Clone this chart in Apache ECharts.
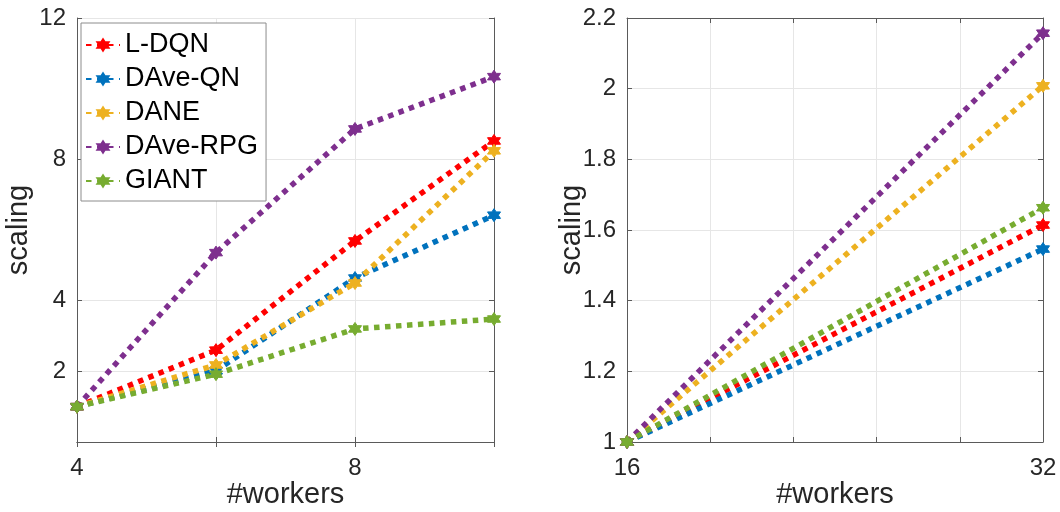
<!DOCTYPE html>
<html><head><meta charset="utf-8">
<script src="https://cdn.jsdelivr.net/npm/echarts@6/dist/echarts.min.js"></script>
<style>html,body{margin:0;padding:0;background:#fff}#c{width:1060px;height:512px}</style>
</head><body><div id="c"></div><script>
const seriesNames = ['L-DQN', 'DAve-QN', 'DANE', 'DAve-RPG', 'GIANT'];
const seriesColors = ['#FF0000', '#0072BD', '#EDB120', '#7E2F8E', '#77AC30'];

const leftWorkers = [4, 6, 8, 10];
const leftLDQN    = [1, 2.6, 5.69, 8.52];
const leftDAveQN  = [1, 2.02, 4.64, 6.42];
const leftDANE    = [1, 2.18, 4.5, 8.24];
const leftDAveRPG = [1, 5.36, 8.86, 10.34];
const leftGIANT   = [1, 1.92, 3.2, 3.48];

const rightWorkers = [16, 32];
const rightLDQN    = [1, 1.614];
const rightDAveQN  = [1, 1.546];
const rightDANE    = [1, 2.008];
const rightDAveRPG = [1, 2.157];
const rightGIANT   = [1, 1.663];

const leftXTicks = [4, 6, 8, 10];
const leftXLabels = [4, 8];
const leftYTicks = [2, 4, 8, 12];
const rightXTicks = [16, 19.2, 22.4, 25.6, 28.8, 32];
const rightXLabels = [16, 32];
const rightYTicks = [1, 1.2, 1.4, 1.6, 1.8, 2, 2.2];

const xName = '#workers';
const yName = 'scaling';

// hexagram marker shape
function hexagramPath() {
  const pts = [];
  for (let i = 0; i < 12; i++) {
    const r = i % 2 === 0 ? 10 : 5.8;
    const a = -Math.PI / 2 + i * Math.PI / 6;
    pts.push((r * Math.cos(a)).toFixed(2) + ' ' + (r * Math.sin(a)).toFixed(2));
  }
  return 'path://M' + pts.join(' L') + ' Z';
}
const starSymbol = hexagramPath();

const AX = '#5a5a5a', TXT = '#262626', GRID = '#e6e6e6';
const FONT = 'Liberation Sans, Arial, Helvetica, sans-serif';

function pairs(xs, ys) { return xs.map((x, i) => [x, ys[i]]); }
const leftData = [leftLDQN, leftDAveQN, leftDANE, leftDAveRPG, leftGIANT];
const rightData = [rightLDQN, rightDAveQN, rightDANE, rightDAveRPG, rightGIANT];

function mkSeries(xs, data, axisIdx) {
  return data.map((ys, i) => ({
    name: seriesNames[i],
    type: 'line',
    xAxisIndex: axisIdx, yAxisIndex: axisIdx,
    data: pairs(xs, ys),
    symbol: starSymbol, symbolSize: 13,
    showAllSymbol: true,
    itemStyle: { color: seriesColors[i], borderColor: seriesColors[i], borderWidth: 1 },
    lineStyle: { color: seriesColors[i], width: 5.5, type: [5.5, 5.5], cap: 'butt' },
    emphasis: { disabled: true },
    animation: false,
    z: 3
  }));
}

function mainX(gi, min, max, ticks, labels) {
  return {
    type: 'value', gridIndex: gi, min: min, max: max, position: 'bottom',
    axisLine: { show: true, lineStyle: { color: AX, width: 1 } },
    axisTick: { show: true, inside: true, length: 5, customValues: ticks, lineStyle: { color: AX } },
    axisLabel: { show: true, customValues: labels, margin: 14, color: TXT, fontSize: 24, fontFamily: FONT },
    splitLine: { show: true, lineStyle: { color: GRID, width: 1 } },
    name: xName, nameLocation: 'middle', nameGap: 38, nameMoveOverlap: false,
    nameTextStyle: { fontSize: 29, color: TXT, fontFamily: FONT }
  };
}
function topX(gi, min, max, ticks) {
  return {
    type: 'value', gridIndex: gi, min: min, max: max, position: 'top',
    axisLine: { show: true, lineStyle: { color: AX, width: 1 } },
    axisTick: { show: true, inside: true, length: 5, customValues: ticks, lineStyle: { color: AX } },
    axisLabel: { show: false }, splitLine: { show: false }
  };
}
function mainY(gi, min, max, ticks, gap) {
  return {
    type: 'value', gridIndex: gi, min: min, max: max, position: 'left',
    axisLine: { show: true, lineStyle: { color: AX, width: 1 } },
    axisTick: { show: true, inside: true, length: 5, customValues: ticks, lineStyle: { color: AX } },
    axisLabel: { show: true, customValues: ticks, margin: 11, color: TXT, fontSize: 24, fontFamily: FONT },
    splitLine: { show: true, lineStyle: { color: GRID, width: 1 } },
    name: yName, nameLocation: 'middle', nameGap: gap, nameRotate: 90, nameMoveOverlap: false,
    nameTextStyle: { fontSize: 29, color: TXT, fontFamily: FONT }
  };
}
function rightY(gi, min, max, ticks) {
  return {
    type: 'value', gridIndex: gi, min: min, max: max, position: 'right',
    axisLine: { show: true, lineStyle: { color: AX, width: 1 } },
    axisTick: { show: true, inside: true, length: 5, customValues: ticks, lineStyle: { color: AX } },
    axisLabel: { show: false }, splitLine: { show: false }
  };
}

const chart = echarts.init(document.getElementById('c'), null, { renderer: 'canvas' });
chart.setOption({
  backgroundColor: '#ffffff',
  animation: false,
  textStyle: { fontFamily: FONT },
  grid: [
    { left: 77, top: 18, width: 417, height: 424, outerBoundsMode: 'none', containLabel: false },
    { left: 627, top: 18, width: 416, height: 424, outerBoundsMode: 'none', containLabel: false }
  ],
  xAxis: [
    mainX(0, 4, 10, leftXTicks, leftXLabels),
    mainX(1, 16, 32, rightXTicks, rightXLabels),
    topX(0, 4, 10, leftXTicks),
    topX(1, 16, 32, rightXTicks)
  ],
  yAxis: [
    mainY(0, 0, 12, leftYTicks, 44),
    mainY(1, 1, 2.2, rightYTicks, 41),
    rightY(0, 0, 12, leftYTicks),
    rightY(1, 1, 2.2, rightYTicks)
  ],
  legend: {
    data: seriesNames,
    orient: 'vertical',
    left: 81, top: 23,
    backgroundColor: '#ffffff',
    borderColor: '#8c8c8c', borderWidth: 1,
    padding: [8, 8, 6, 4],
    itemGap: 6,
    itemWidth: 34, itemHeight: 14,
    textStyle: { fontSize: 27, lineHeight: 28, color: '#000', fontFamily: FONT },
    selectedMode: false,
    z: 10
  },
  series: [].concat(mkSeries(leftWorkers, leftData, 0), mkSeries(rightWorkers, rightData, 1))
});
</script></body></html>
